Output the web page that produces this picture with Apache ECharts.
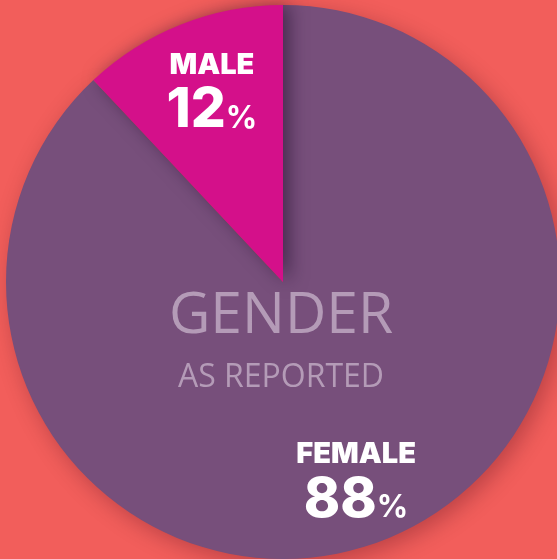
<!DOCTYPE html>
<html>
<head>
<meta charset="utf-8">
<title>Gender as reported</title>
<script src="https://cdn.jsdelivr.net/npm/echarts@6/dist/echarts.min.js"></script>
<style>
  html, body { margin: 0; padding: 0; background: #F25E5B; }
  #chart { width: 557px; height: 559px; }
</style>
</head>
<body>
<div id="chart"></div>
<script>
'use strict'

// data
var categories = ['FEMALE', 'MALE'];
var shares = [88, 12];
var sliceColors = ['#774F7B', '#D4108A'];
// where each label sits relative to the slice's inside point
var labelShift = [[21, 69], [-19, -57]];

var myChart = echarts.init(document.getElementById('chart'));

var pieData = [];
for (var i = 0; i < categories.length; i++) {
    pieData.push({
        name: categories[i],
        value: shares[i],
        itemStyle: {
            color: sliceColors[i],
            shadowColor: i === 0 ? 'rgba(60,0,20,0.30)' : 'rgba(30,10,40,0.55)',
            shadowBlur: i === 0 ? 22 : 18,
            shadowOffsetX: i === 0 ? 5 : 6,
            shadowOffsetY: i === 0 ? 6 : 0
        }
    });
}

var option = {
    backgroundColor: '#F25E5B',
    animation: false,
    graphic: [{
        type: 'text',
        silent: true,
        z: 10,
        style: {
            text: 'GENDER',
            x: 281, y: 317,
            align: 'center', verticalAlign: 'middle',
            font: '400 57px "Open Sans"',
            fill: '#B49BB7'
        }
    }, {
        type: 'text',
        silent: true,
        z: 10,
        style: {
            text: 'AS REPORTED',
            x: 281, y: 378,
            align: 'center', verticalAlign: 'middle',
            font: '400 32px "Open Sans"',
            fill: '#B49BB7'
        }
    }],
    series: [{
        type: 'pie',
        center: [283, 282],
        radius: 277,
        startAngle: 90,
        clockwise: true,
        silent: true,
        avoidLabelOverlap: false,
        itemStyle: { borderWidth: 0 },
        label: {
            show: true,
            position: 'inside',
            formatter: '{n|{b}}\n{v|{c}}{p|%}',
            align: 'center',
            rich: {
                n: { fontFamily: 'Inter', fontWeight: 900, fontSize: 29, color: '#fff', lineHeight: 34, align: 'center' },
                v: { fontFamily: 'Inter', fontWeight: 800, fontSize: 55, color: '#fff', lineHeight: 56, verticalAlign: 'bottom' },
                p: { fontFamily: 'Inter', fontWeight: 700, fontSize: 31, color: '#fff', lineHeight: 56, verticalAlign: 'bottom', padding: [0, 0, 4, 0] }
            }
        },
        labelLine: { show: false },
        labelLayout: function (params) {
            var s = labelShift[params.dataIndex];
            return { dx: s[0], dy: s[1] };
        },
        data: pieData
    }]
};

myChart.setOption(option);
</script>
</body>
</html>
